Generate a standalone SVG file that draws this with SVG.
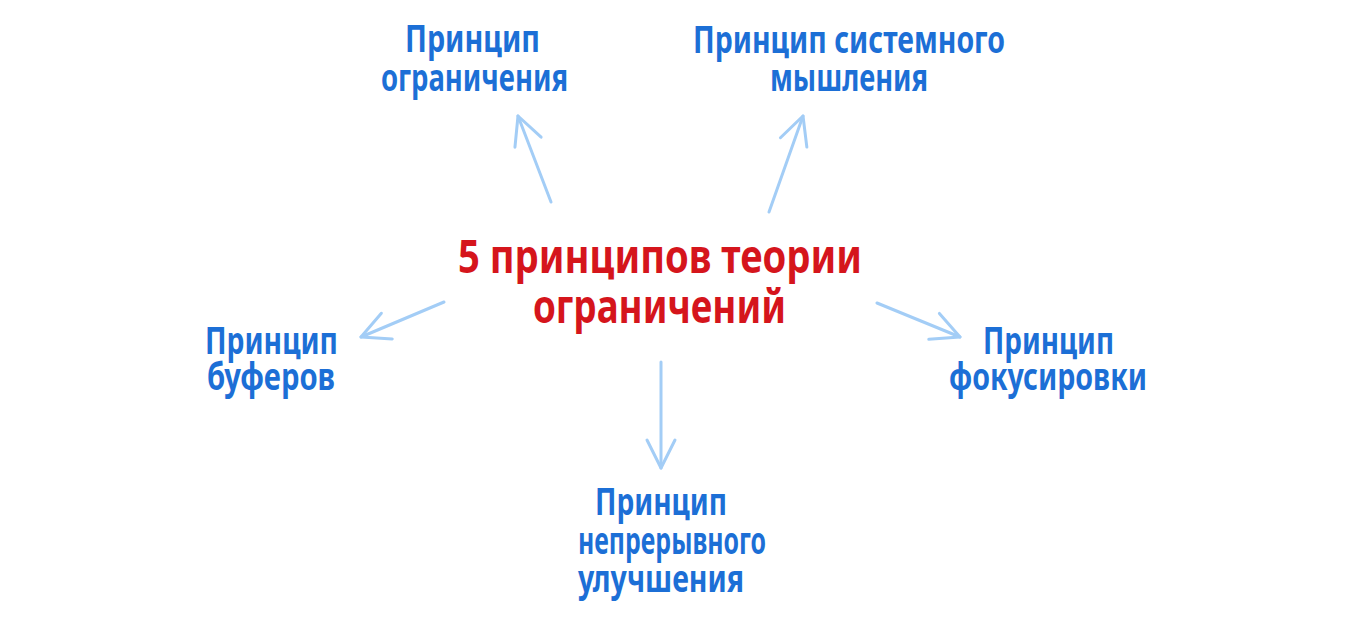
<svg xmlns="http://www.w3.org/2000/svg" width="1352" height="618" viewBox="0 0 1352 618">
  <style>
    .lbl { font-family: "Noto Sans", "Liberation Sans", sans-serif; font-weight: 700; font-size: 38px; fill: #1c6fd6; }
    .main { font-family: "Noto Sans", "Liberation Sans", sans-serif; font-weight: 700; font-size: 47px; fill: #d5151c; }
    .arrow { fill: none; stroke: #a3cdf6; stroke-width: 3; stroke-linecap: round; stroke-linejoin: round; }
  </style>
  <defs>
    <marker id="chev" markerUnits="userSpaceOnUse" markerWidth="60" markerHeight="60" refX="0" refY="0" orient="auto" overflow="visible">
      <path d="M -28 -14 L 0 0 L -28 14" fill="none" stroke="#a3cdf6" stroke-width="3" stroke-linecap="round" stroke-linejoin="round"/>
    </marker>
  </defs>
  <rect width="1352" height="618" fill="#ffffff"/>

  <g id="connectors">
    <path class="arrow" d="M551,202 L518,116" marker-end="url(#chev)"/>
    <path class="arrow" d="M769,212 L803,116" marker-end="url(#chev)"/>
    <path class="arrow" d="M444,302 L361,337" marker-end="url(#chev)"/>
    <path class="arrow" d="M661,362 L661,468" marker-end="url(#chev)"/>
    <path class="arrow" d="M877,303 L960,337" marker-end="url(#chev)"/>
  </g>

  <g id="center">
    <text class="main" x="458" y="273" textLength="404" lengthAdjust="spacingAndGlyphs">5 принципов теории</text>
    <text class="main" x="533" y="323" textLength="253" lengthAdjust="spacingAndGlyphs">ограничений</text>
  </g>

  <g id="node-ogranicheniya">
    <text class="lbl" x="405" y="52" textLength="135" lengthAdjust="spacingAndGlyphs">Принцип</text>
    <text class="lbl" x="381" y="91" textLength="187" lengthAdjust="spacingAndGlyphs">ограничения</text>
  </g>

  <g id="node-sistemnogo">
    <text class="lbl" x="693" y="53" textLength="312" lengthAdjust="spacingAndGlyphs">Принцип системного</text>
    <text class="lbl" x="770" y="91" textLength="158" lengthAdjust="spacingAndGlyphs">мышления</text>
  </g>

  <g id="node-buferov">
    <text class="lbl" x="205" y="354" textLength="133" lengthAdjust="spacingAndGlyphs">Принцип</text>
    <text class="lbl" x="207" y="390" textLength="128" lengthAdjust="spacingAndGlyphs">буферов</text>
  </g>

  <g id="node-fokusirovki">
    <text class="lbl" x="983" y="354" textLength="131" lengthAdjust="spacingAndGlyphs">Принцип</text>
    <text class="lbl" x="949" y="390" textLength="198" lengthAdjust="spacingAndGlyphs">фокусировки</text>
  </g>

  <g id="node-uluchsheniya">
    <text class="lbl" x="595" y="515" textLength="132" lengthAdjust="spacingAndGlyphs">Принцип</text>
    <text class="lbl" x="578" y="554" textLength="188" lengthAdjust="spacingAndGlyphs">непрерывного</text>
    <text class="lbl" x="578" y="592" textLength="166" lengthAdjust="spacingAndGlyphs">улучшения</text>
  </g>
</svg>
